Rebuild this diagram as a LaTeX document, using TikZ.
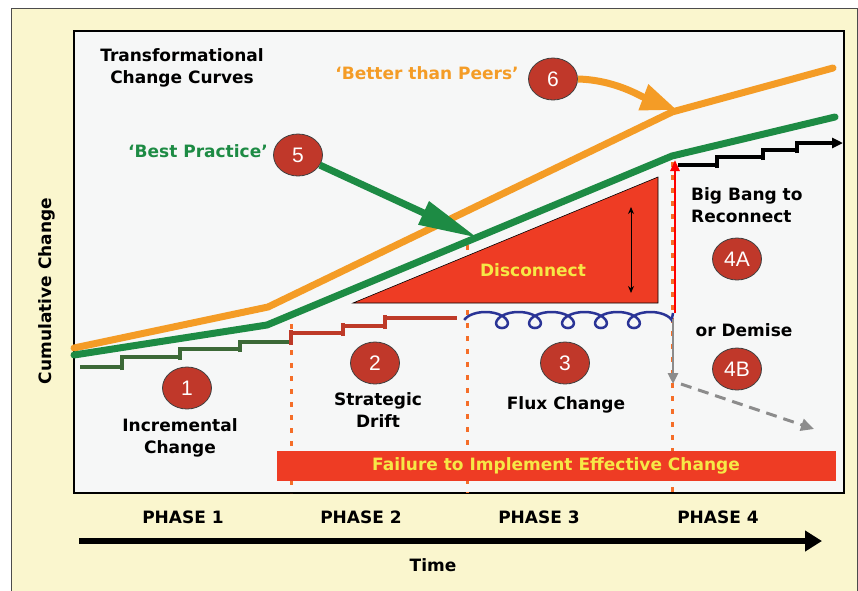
\documentclass[tikz,border=0pt]{standalone}
\usepackage{fontspec}
\setmainfont{DejaVu Sans}
\newfontfamily\numfont{Liberation Sans}
\usetikzlibrary{shapes.geometric,arrows.meta,positioning}

\definecolor{cream}{RGB}{250,246,206}
\definecolor{panel}{RGB}{246,247,247}
\definecolor{peerorange}{RGB}{244,156,38}
\definecolor{bestgreen}{RGB}{29,139,68}
\definecolor{stepgreen}{RGB}{60,105,55}
\definecolor{stepred}{RGB}{190,58,40}
\definecolor{coilblue}{RGB}{42,52,150}
\definecolor{gapred}{RGB}{238,60,36}
\definecolor{markred}{RGB}{192,56,42}
\definecolor{phaseorange}{RGB}{245,110,40}
\definecolor{labelyellow}{RGB}{246,232,70}
\definecolor{demisegray}{RGB}{140,140,140}

\tikzstyle{txt} = [font=\bfseries\fontsize{17}{22}\selectfont, align=center, inner sep=0pt]
\tikzstyle{marker} = [ellipse, draw=black!75, line width=0.8pt, fill=markred,
    minimum width=49pt, minimum height=42pt, inner sep=0pt, text=white,
    font=\numfont\fontsize{21}{21}\selectfont]
\tikzstyle{curve} = [line width=7pt, line cap=round, line join=round]
\tikzstyle{stairs} = [line width=3.2pt]
\tikzstyle{phaseline} = [phaseorange, line width=3pt, dash pattern=on 5pt off 8pt]

\begin{document}
\begin{tikzpicture}[x=1pt,y=-1pt]
		\useasboundingbox (0,0) rectangle (858,590);
		\fill[white] (0,0) rectangle (858,590);
		% Frames
		\filldraw[fill=cream, draw=black!70, line width=1pt] (11,8) rectangle (857,600);
		\filldraw[fill=panel, draw=black, line width=2.5pt] (74,31) rectangle (844,493);
		% Phase boundaries
		\draw[phaseline] (291,324) -- (291,493);
		\draw[phaseline] (467,245) -- (467,493);
		\draw[phaseline] (672,162) -- (672,493);
		% Gap between the curves and the change steps
		\filldraw[fill=gapred, draw=black, line width=0.6pt] (353,303) -- (658,303) -- (658,177) -- cycle;
		\node [txt, text=labelyellow] (disconnect) at (533,270) {Disconnect};
		\coordinate (gaptop) at (631,207);
		\coordinate (gapbot) at (631,293);
		\draw [line width=1pt, {Stealth[length=7pt,width=6pt]}-{Stealth[length=7pt,width=6pt]}] (gaptop) -- (gapbot);
		% Flux coil, loops hanging below
		\draw [coilblue, line width=2.5pt] plot[domain=-90:1890, samples=400, smooth]
			({485.5+0.09163*\x+13*sin(\x)}, {320-8*cos(\x)}) -- (673,313);
		% Change steps
		\draw [stairs, stepgreen] (80,367) -- (122,367) (122,370) -- (122,355) (122,357) -- (180,357)
			(180,360) -- (180,347) (180,349) -- (240,349) (240,352) -- (240,340) (240,342) -- (289,342);
		\draw [stairs, stepred] (291,345) -- (291,330) (291,333) -- (343,333) (343,336) -- (343,323)
			(343,326) -- (385,326) (385,329) -- (385,315) (385,318) -- (457,318);
		\draw [stairs, black] (678,165) -- (717,165) (717,168) -- (717,155) (717,157) -- (763,157)
			(763,160) -- (763,148) (763,150) -- (797,150) (797,153) -- (797,141);
		\coordinate (stepstart) at (797,143);
		\coordinate (stepend) at (843,143);
		\draw [stairs, black, -{Triangle[length=11pt,width=10pt]}] (stepstart) -- (stepend);
		% Curves
		\draw [curve, peerorange] (74,348) -- (268,307) -- (672,112) -- (833,68);
		\draw [curve, bestgreen] (74,355) -- (267,325) -- (672,156) -- (835,117);
		% Big bang or demise
		\coordinate (bangbot) at (675,313);
		\coordinate (bangtop) at (675,160);
		\draw [red, line width=2.4pt, -{Triangle[length=11pt,width=9pt]}] (bangbot) -- (bangtop);
		\coordinate (demtop) at (673,319);
		\coordinate (dembot) at (673,384);
		\draw [demisegray, line width=2.8pt, -{Triangle[length=11pt,width=10pt]}] (demtop) -- (dembot);
		\coordinate (demstart) at (681,384);
		\coordinate (demend) at (814,429);
		\draw [demisegray, line width=3pt, dash pattern=on 11pt off 7pt, -{Triangle[length=13pt,width=12pt]}] (demstart) -- (demend);
		% Failure bar
		\node [txt, fill=gapred, text=labelyellow, minimum width=559pt, minimum height=30pt] (failbar) at (556,466) {Failure to Implement Effective Change};
		% Markers
		\node [marker] (m1) at (187,388) {1};
		\node [marker] (m2) at (375,363) {2};
		\node [marker] (m3) at (565,363) {3};
		\node [marker] (m4a) at (737,259) {4A};
		\node [marker] (m4b) at (737,369) {4B};
		\node [marker] (m5) at (298,155) {5};
		\node [marker] (m6) at (553,79) {6};
		% Pointers to the curves
		\coordinate (bestpt) at (478,238);
		\coordinate (peerpt) at (677,110);
		\draw [bestgreen, line width=7pt, -{Triangle[length=60pt,width=24pt]}] (m5) -- (bestpt);
		\draw [peerorange, line width=7pt, -{Triangle[length=36pt,width=26pt]}] (m6.east) .. controls (615,80) and (640,96) .. (peerpt);
		% Labels
		\node [txt] (title) at (182,68) {Transformational\\Change Curves};
		\node [txt, text=bestgreen] (best) at (198,151) {‘Best Practice’};
		\node [txt, text=peerorange] (peers) at (427,73) {‘Better than Peers’};
		\node [txt] (incr) at (180,438) {Incremental\\Change};
		\node [txt] (drift) at (378,410) {Strategic\\Drift};
		\node [txt] (flux) at (566,405) {Flux Change};
		\node [txt, align=left, anchor=west] (bigbang) at (691,205) {Big Bang to\\Reconnect};
		\node [txt] (demise) at (744,330) {or Demise};
		\node [txt, rotate=90] (cumul) at (47,291) {Cumulative Change};
		% Time axis
		\node [txt] (phase1) at (183,517) {PHASE 1};
		\node [txt] (phase2) at (361,517) {PHASE 2};
		\node [txt] (phase3) at (539,517) {PHASE 3};
		\node [txt] (phase4) at (718,517) {PHASE 4};
		\coordinate (tstart) at (79,541);
		\coordinate (tend) at (822,541);
		\draw [line width=6pt, -{Triangle[length=17pt,width=20pt]}] (tstart) -- (tend);
		\node [txt] (time) at (433,565) {Time};
\end{tikzpicture}
\end{document}
